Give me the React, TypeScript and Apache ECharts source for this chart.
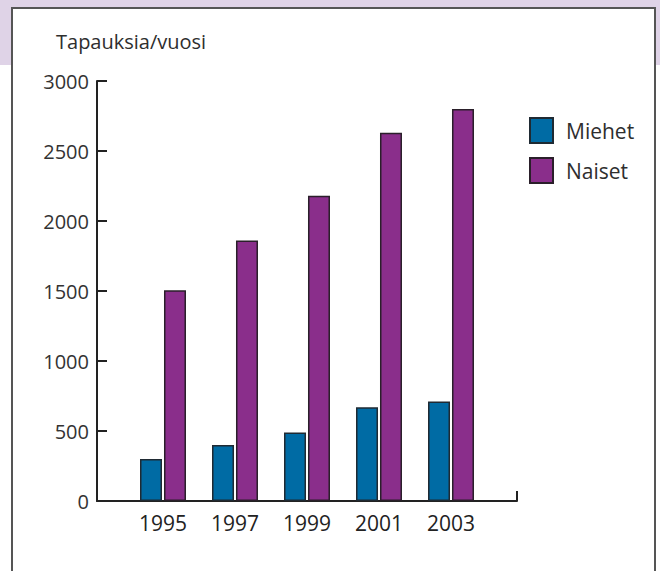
import React, { useEffect, useRef } from "react";
import * as echarts from "echarts";

const years = [1995, 1997, 1999, 2001, 2003];
const miehet = [300, 400, 490, 670, 710];
const naiset = [1505, 1860, 2180, 2630, 2800];
const yTicks = [0, 500, 1000, 1500, 2000, 2500, 3000];
const seriesNames = ["Miehet", "Naiset"];
const yTitle = "Tapauksia/vuosi";

const FONT = "Open Sans";

export default function App() {
  const ref = useRef<HTMLDivElement>(null);
  useEffect(() => {
    if (!ref.current) return;
    const chart = echarts.init(ref.current, null, { renderer: "svg" });
    const pad = 1.8333;
    const xMin = years[0] - pad;
    const xMax = years[years.length - 1] + pad;
    chart.setOption({
      animation: false,
      backgroundColor: "#ffffff",
      textStyle: { fontFamily: FONT },
      graphic: [
        {
          type: "rect",
          z: -10,
          silent: true,
          shape: { x: 0, y: 0, width: 660, height: 65 },
          style: { fill: "#dfd3e7" },
        },
        {
          type: "rect",
          z: -9,
          silent: true,
          shape: { x: 12, y: 8, width: 643, height: 580 },
          style: { fill: "#ffffff", stroke: "#555555", lineWidth: 2 },
        },
      ],
      title: {
        text: yTitle,
        left: 56,
        top: 31,
        padding: 0,
        textStyle: { fontFamily: FONT, fontSize: 20, fontWeight: "normal", color: "#2e2e2e" },
      },
      legend: {
        orient: "vertical",
        left: 529,
        top: 117,
        padding: 0,
        itemWidth: 23,
        itemHeight: 25,
        itemGap: 13,
        icon: "rect",
        data: seriesNames,
        textStyle: { fontFamily: FONT, fontSize: 21, color: "#2e2e2e", padding: [0, 0, 0, 8] },
      },
      grid: { left: 97, right: 143, top: 81, bottom: 70, containLabel: false },
      xAxis: {
        type: "value",
        min: xMin,
        max: xMax,
        splitLine: { show: false },
        axisLine: { show: true, onZero: false, lineStyle: { color: "#222222", width: 2 } },
        axisTick: {
          show: true,
          inside: true,
          length: 10,
          customValues: [xMax],
          lineStyle: { color: "#222222", width: 2 },
        },
        axisLabel: {
          customValues: years,
          formatter: (v: number) => String(Math.round(v)),
          fontFamily: FONT,
          fontSize: 21,
          color: "#222222",
          margin: 11,
        },
      },
      yAxis: {
        type: "value",
        min: yTicks[0],
        max: yTicks[yTicks.length - 1],
        interval: 500,
        splitLine: { show: false },
        axisLine: { show: true, lineStyle: { color: "#222222", width: 2 } },
        axisTick: { show: true, inside: true, length: 10, lineStyle: { color: "#222222", width: 2 } },
        axisLabel: {
          formatter: (v: number) => String(v),
          fontFamily: FONT,
          fontSize: 20,
          color: "#333333",
          margin: 8,
        },
      },
      series: [
        {
          name: seriesNames[0],
          type: "bar",
          barWidth: 22,
          barGap: "9%",
          data: years.map((y, i) => [y, miehet[i]]),
          itemStyle: { color: "#006ba4", borderColor: "#1f2a33", borderWidth: 1.5 },
        },
        {
          name: seriesNames[1],
          type: "bar",
          barWidth: 22,
          barGap: "9%",
          data: years.map((y, i) => [y, naiset[i]]),
          itemStyle: { color: "#8a2e8b", borderColor: "#2a1f2a", borderWidth: 1.5 },
        },
      ],
    });
    return () => chart.dispose();
  }, []);
  return (
    <div
      ref={ref}
      style={{ position: "fixed", left: 0, top: 0, width: 660, height: 571 }}
    />
  );
}
